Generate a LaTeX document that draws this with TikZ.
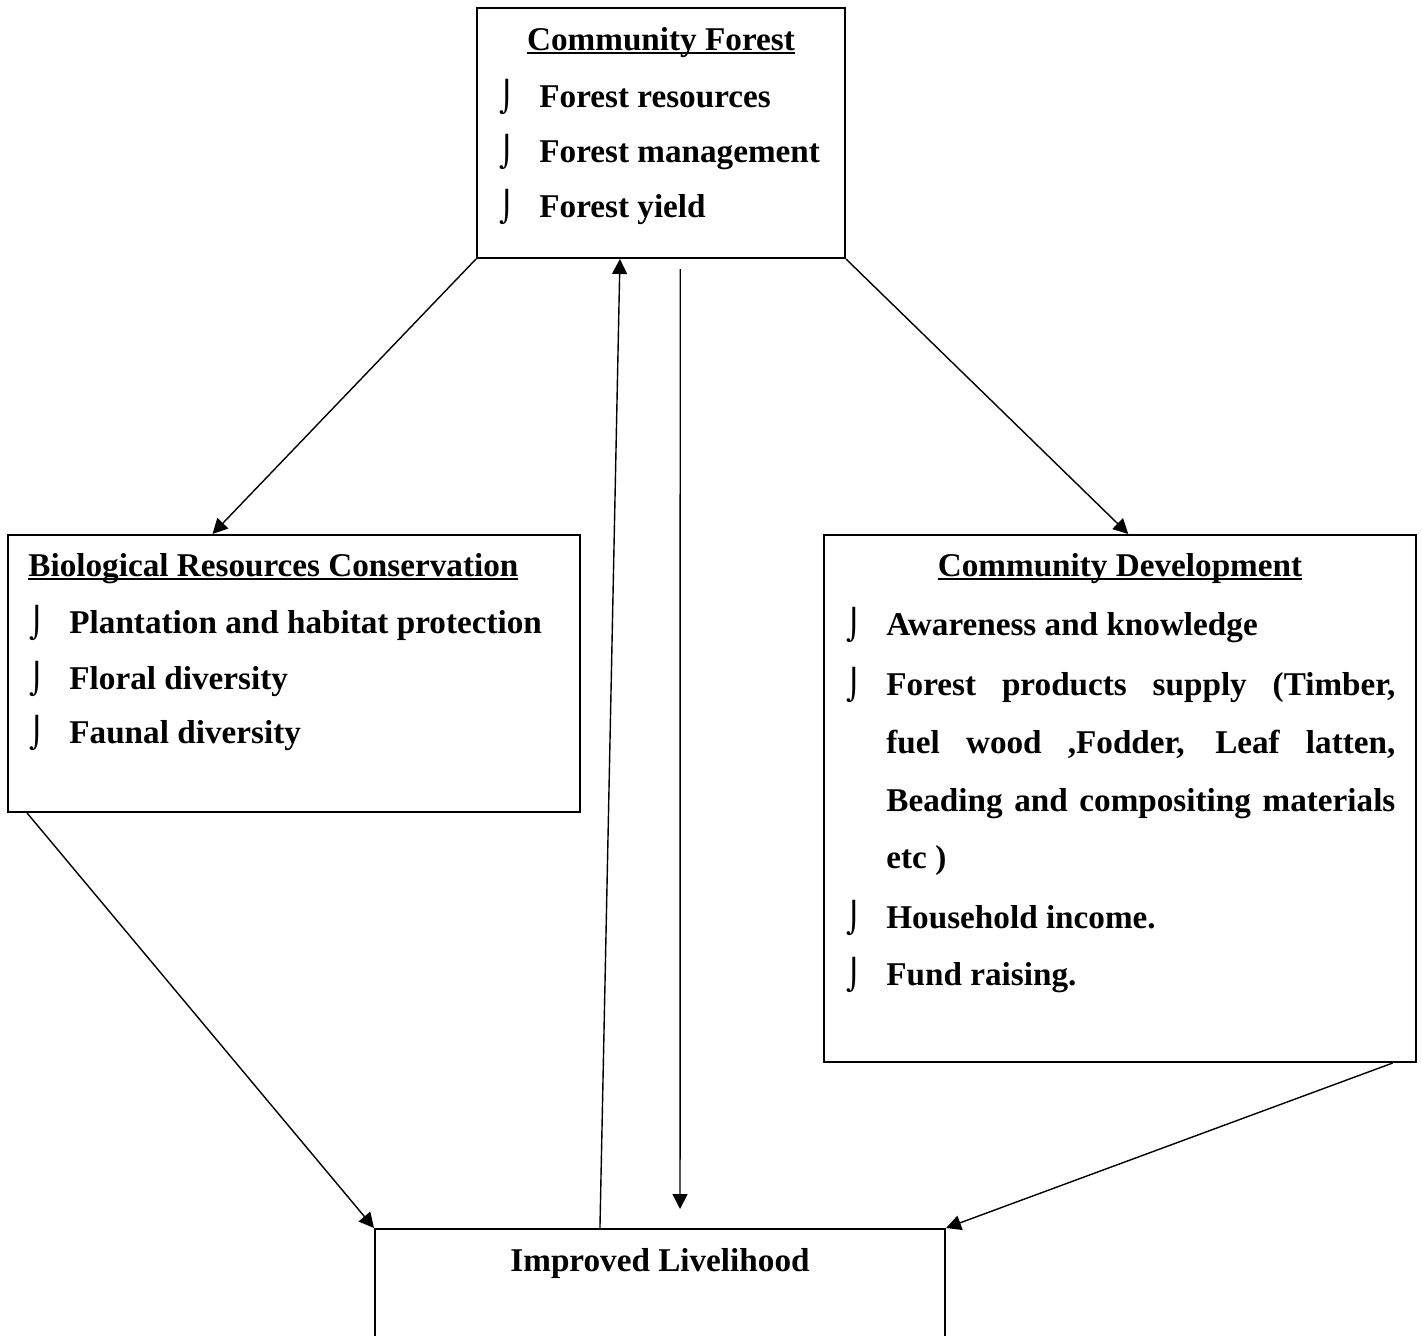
\documentclass[tikz,border=0pt]{standalone}
\usepackage{fontspec}
\setmainfont{Liberation Serif}
\newfontfamily\bltfont{DejaVu Sans}
\usetikzlibrary{arrows.meta,calc}
% heading underline drawn through the descenders
\newcommand\hdline[1]{\setbox0=\hbox{#1}\rlap{\vrule height -0.8pt depth 2pt width \wd0}\box0}
\tikzset{
  every node/.style={font=\fontsize{16.6}{20}\selectfont\bfseries, text=black, inner sep=0pt},
  box/.style={draw=black, line width=1pt},
  head/.style={anchor=base},
  item/.style={anchor=base west},
  blt/.style={anchor=base west, font=\bltfont\fontsize{15}{18}\selectfont},
  arr/.style={-{Triangle[length=7.5pt,width=7.5pt]}, draw=black, line width=0.7pt},
}
\begin{document}
\begin{tikzpicture}[x=0.5pt, y=-0.5pt]
  \useasboundingbox (0,0) rectangle (1422,1335);
  \clip (0,0) rectangle (1422,1335);

  % boxes
  \node[box, minimum width=184pt, minimum height=125pt] (cf) at (661,133) {};
  \node[box, minimum width=286pt, minimum height=138.5pt] (brc) at (294,673.5) {};
  \node[box, minimum width=296pt, minimum height=263.5pt] (cd) at (1120,798.5) {};
  \node[box, minimum width=285pt, minimum height=85.5pt] (il) at (660,1314.5) {};

  % headings
  \node[head] (cft) at (661,50) {\hdline{Community Forest}};
  \node[head, anchor=base west] (brct) at (28,576) {\hdline{Biological Resources Conservation}};
  \node[head] (cdt) at (1120,576) {\hdline{Community Development}};
  \node[head] (ilt) at (660,1271) {Improved Livelihood};

  % community forest items
  \foreach \n/\y/\t in {1/107/Forest resources, 2/162/Forest management, 3/217/Forest yield} {
    \node[blt] (cfb\n) at (499,\y) {⌡};
    \node[item] (cfi\n) at (539,\y) {\t};
  }

  % conservation items
  \foreach \n/\y/\t in {1/633/Plantation and habitat protection, 2/689/Floral diversity, 3/743/Faunal diversity} {
    \node[blt] (brcb\n) at (29,\y) {⌡};
    \node[item] (brci\n) at (69,\y) {\t};
  }

  % development items
  \foreach \n/\y in {1/635, 2/695, 3/928, 4/985} {
    \node[blt] (cdb\n) at (846,\y) {⌡};
  }
  \node[item] (cdi1) at (886,635) {Awareness and knowledge};
  \node[item] (cdi2) at (886,695) {\makebox[254.5pt][s]{Forest products supply (Timber,}};
  \node[item] (cdi3) at (886,753) {\makebox[254.5pt][s]{fuel wood ,Fodder, Leaf latten,}};
  \node[item] (cdi4) at (886,811) {\makebox[254.5pt][s]{Beading and compositing materials}};
  \node[item] (cdi5) at (886,868) {etc )};
  \node[item] (cdi6) at (886,928) {Household income.};
  \node[item] (cdi7) at (886,985) {Fund raising.};

  % connectors
  \draw[arr] (cf.south west) -- ($(brc.north west)!0.358!(brc.north east)$);
  \draw[arr] (cf.south east) -- ($(cd.north west)!0.514!(cd.north east)$);
  \draw[arr] ($(il.north west)!0.395!(il.north east)$) -- ($(cf.south west)!0.389!(cf.south east)$);
  \draw[arr, shorten <=5pt, shorten >=9.5pt] ($(cf.south west)!0.552!(cf.south east)$) -- ($(il.north west)!0.535!(il.north east)$);
  \draw[arr] ($(brc.south west)!0.035!(brc.south east)$) -- (il.north west);
  \draw[arr] ($(cd.south west)!0.959!(cd.south east)$) -- (il.north east);
\end{tikzpicture}
\end{document}
